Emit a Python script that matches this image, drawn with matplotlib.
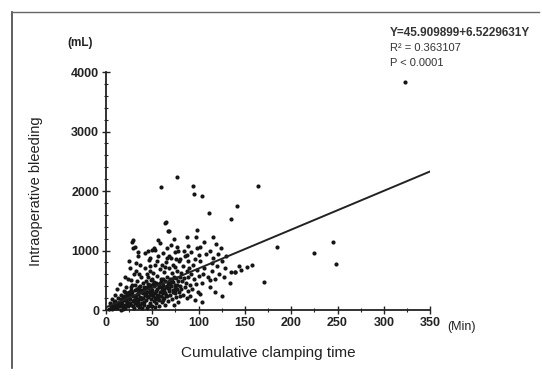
import numpy as np
import matplotlib.pyplot as plt
from matplotlib.lines import Line2D

# clamping time (min) and bleeding (mL)
clamp_time = [
    323, 245, 225, 248, 185, 171, 134, 125, 139, 146, 152, 158,
    77, 59, 94, 95, 104, 111, 65, 68, 28, 29, 164, 141, 135,
    64, 67, 98, 97, 115, 119, 29, 31, 56, 87, 50, 53, 77, 101, 121, 87, 100,
    32, 66, 80, 114, 144, 135, 139, 105, 112, 101, 104,
    3, 5, 6, 8, 9, 10, 11, 12, 13, 14, 15, 16, 17, 18, 19, 20, 7, 4, 12, 15, 18, 10, 20, 16,
    21, 22, 22, 23, 24, 24, 25, 26, 26, 27, 28, 28, 29, 30, 30, 31, 32, 33, 33, 34,
    35, 35, 36, 36, 37, 38, 38, 39, 40, 40, 21, 25, 32, 34, 37, 39, 23, 27, 31, 36,
    41, 41, 42, 42, 43, 43, 44, 44, 45, 45, 46, 46, 47, 47, 48, 48, 49, 49, 50, 50,
    51, 51, 52, 52, 53, 53, 54, 54, 55, 55, 56, 56, 57, 57, 58, 58, 59, 59, 60, 60,
    42, 45, 48, 52, 55, 58, 44, 50, 53, 57, 47, 49, 51, 55, 60,
    61, 61, 62, 62, 63, 63, 64, 64, 65, 65, 66, 66, 67, 67, 68, 68, 69, 69, 70, 70,
    71, 71, 72, 72, 73, 73, 74, 74, 75, 75, 76, 76, 77, 77, 78, 78, 79, 79, 80, 80,
    62, 66, 70, 73, 78, 64, 68, 72, 76, 80,
    81, 81, 82, 83, 83, 84, 85, 85, 86, 87, 87, 88, 89, 89, 90, 91, 92, 92, 93, 94,
    95, 96, 97, 98, 99, 100, 84, 88, 91, 96, 98,
    102, 104, 106, 108, 110, 112, 114, 116, 118, 120, 122, 125, 128,
    106, 112, 118, 124, 127, 130,
    # dense core
    8, 11, 14, 17, 19, 22, 24, 26, 28, 30, 32, 34, 36, 38, 40, 42, 44, 46, 48, 50,
    9, 13, 16, 20, 23, 25, 27, 29, 31, 33, 35, 37, 39, 41, 43, 45, 47, 49, 52, 54,
    56, 58, 60, 62, 64, 66, 68, 70, 72, 74, 57, 59, 61, 63, 65, 67, 69, 71, 75, 77,
    14, 18, 21, 25, 29, 33, 37, 41, 45, 49, 53, 27, 31, 35, 39, 43, 47, 51, 55, 63,
]
bleeding = [
    3830, 1143, 958, 773, 1060, 470, 450, 235, 640, 680, 720, 760,
    2235, 2070, 2085, 1950, 1915, 1630, 1480, 1330, 1140, 1040, 2085, 1750, 1530,
    1460, 1330, 1345, 1230, 1230, 1110, 1180, 1060, 1180, 1230, 1010, 1010, 1060, 1060, 940, 925, 925,
    790, 870, 860, 790, 740, 640, 640, 605, 505, 270, 135,
    20, 60, 10, 90, 40, 150, 70, 30, 200, 110, 60, 260, 140, 20, 320, 90, 180, 120, 350, 430, 210, 250, 170, 5,
    40, 230, 380, 120, 520, 60, 300, 180, 700, 90, 420, 250, 150, 30, 600, 340, 210, 80, 480, 270,
    140, 900, 380, 50, 220, 560, 310, 120, 450, 200, 560, 820, 650, 980, 760, 40, 290, 510, 110, 600,
    90, 320, 250, 700, 160, 480, 380, 30, 560, 220, 300, 840, 120, 420, 650, 260, 180, 500, 340, 70,
    620, 230, 400, 150, 760, 290, 460, 110, 350, 580, 200, 900, 440, 60, 310, 690, 520, 240, 380, 130,
    960, 1000, 880, 1050, 820, 1120, 600, 520, 210, 380, 740, 310, 440, 180, 760,
    280, 520, 420, 170, 640, 340, 90, 480, 380, 800, 230, 560, 450, 150, 700, 320, 520, 260, 400, 880,
    180, 620, 470, 340, 560, 90, 730, 280, 420, 980, 220, 540, 360, 650, 480, 130, 820, 300, 560, 400,
    960, 1040, 1100, 1200, 1000, 720, 900, 760, 860, 240,
    620, 350, 480, 260, 740, 540, 380, 900, 460, 650, 200, 560, 820, 320, 700, 420, 600, 980, 350, 760,
    520, 860, 440, 680, 300, 580, 1000, 1080, 240, 160, 1050,
    820, 460, 700, 940, 560, 380, 660, 880, 520, 740, 600, 820, 700,
    1150, 1000, 300, 1040, 560, 900,
    # dense core
    50, 100, 130, 80, 240, 160, 200, 110, 300, 170, 250, 140, 330, 190, 280, 360, 230, 400, 330, 270,
    130, 60, 190, 220, 140, 260, 330, 230, 170, 360, 290, 410, 200, 380, 300, 430, 350, 280, 470, 320,
    260, 450, 330, 360, 280, 410, 350, 480, 300, 380, 170, 470, 210, 300, 250, 370, 440, 520, 330, 420,
    100, 70, 300, 110, 60, 350, 90, 140, 70, 60, 50, 380, 420, 190, 330, 250, 380, 280, 240, 200,
]
intercept = 45.909899
slope = 6.5229631
stats_text = ['Y=45.909899+6.5229631Y', 'R² = 0.363107', 'P < 0.0001']

fig = plt.figure(figsize=(5.42, 3.76), dpi=100)
plt.rcParams['font.family'] = ['Liberation Sans', 'DejaVu Sans']
ax = fig.add_axes([0.1956, 0.1755, 0.598, 0.633])

ax.scatter(clamp_time, bleeding, s=9, c='#151515', linewidths=0, clip_on=False, zorder=3)
xl = np.array([0, 350])
ax.plot(xl, intercept + slope * xl, color='#222222', lw=1.4, zorder=4)

ax.set_xlim(0, 350)
ax.set_ylim(0, 4000)
ax.set_xticks(range(0, 351, 50))
ax.set_xticks(range(25, 351, 50), minor=True)
ax.set_yticks(range(0, 4001, 1000))
ax.set_yticks(range(0, 4001, 200), minor=True)
for s in ['top', 'right']:
    ax.spines[s].set_visible(False)
for s in ['left', 'bottom']:
    ax.spines[s].set_linewidth(1.3)
    ax.spines[s].set_color('#222222')
ax.tick_params(which='major', direction='inout', length=6, width=1, labelsize=9, pad=2, colors='#222222')
ax.tick_params(which='minor', direction='inout', length=3, width=0.8, colors='#222222')
for lab in ax.get_xticklabels() + ax.get_yticklabels():
    lab.set_fontweight('bold')

ax.set_xlabel('Cumulative clamping time', fontsize=11, labelpad=12, color='#222222')
ax.set_ylabel('Intraoperative bleeding', fontsize=10.5, labelpad=20, color='#222222')
fig.text(0.148, 0.878, '(mL)', fontsize=8.5, fontweight='bold', ha='center', color='#222222')
fig.text(0.825, 0.123, '(Min)', fontsize=9, ha='left', color='#222222')

fig.text(0.72, 0.904, stats_text[0], fontsize=8.5, fontweight='bold', color='#333333')
fig.text(0.72, 0.864, stats_text[1], fontsize=8, color='#333333')
fig.text(0.72, 0.824, stats_text[2], fontsize=8, color='#333333')

# scanned page border
fig.add_artist(Line2D([0.022, 0.022], [0.02, 0.968], transform=fig.transFigure, color='#444444', lw=1.2))
fig.add_artist(Line2D([0.022, 0.995], [0.968, 0.968], transform=fig.transFigure, color='#666666', lw=1.0))

fig.savefig('out.png', dpi=100)
